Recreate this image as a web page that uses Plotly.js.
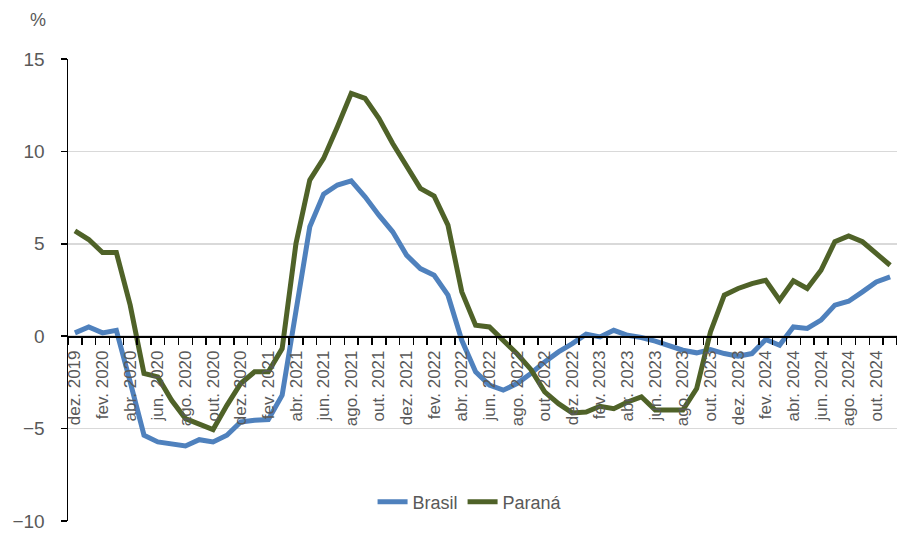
<!DOCTYPE html>
<html>
<head>
<meta charset="utf-8">
<script src="https://cdn.plot.ly/plotly-3.0.1.min.js"></script>
<style>html,body{margin:0;padding:0;background:#fff;}#chart{width:897px;height:536px;}</style>
</head>
<body>
<div id="chart"></div>
<script>
const months = [
  'dez. 2019',
  'jan. 2020','fev. 2020','mar. 2020','abr. 2020','mai. 2020','jun. 2020','jul. 2020','ago. 2020','set. 2020','out. 2020','nov. 2020','dez. 2020',
  'jan. 2021','fev. 2021','mar. 2021','abr. 2021','mai. 2021','jun. 2021','jul. 2021','ago. 2021','set. 2021','out. 2021','nov. 2021','dez. 2021',
  'jan. 2022','fev. 2022','mar. 2022','abr. 2022','mai. 2022','jun. 2022','jul. 2022','ago. 2022','set. 2022','out. 2022','nov. 2022','dez. 2022',
  'jan. 2023','fev. 2023','mar. 2023','abr. 2023','mai. 2023','jun. 2023','jul. 2023','ago. 2023','set. 2023','out. 2023','nov. 2023','dez. 2023',
  'jan. 2024','fev. 2024','mar. 2024','abr. 2024','mai. 2024','jun. 2024','jul. 2024','ago. 2024','set. 2024','out. 2024','nov. 2024'
];
const brasil = [
  0.18, 0.5, 0.18, 0.32, -2.47, -5.36, -5.72, -5.85, -5.94, -5.6, -5.72, -5.36, -4.64,
  -4.55, -4.51, -3.19, 1.48, 5.92, 7.69, 8.18, 8.41, 7.54, 6.55, 5.65, 4.39,
  3.66, 3.3, 2.22, -0.22, -1.93, -2.65, -2.92, -2.56, -2.02, -1.39, -0.85, -0.4,
  0.11, -0.04, 0.32, 0.05, -0.07, -0.27, -0.49, -0.76, -0.9, -0.72, -0.94, -1.08,
  -0.94, -0.18, -0.49, 0.5, 0.42, 0.87, 1.68, 1.89, 2.4, 2.94, 3.21
];
const parana = [
  5.7, 5.23, 4.53, 4.53, 1.68, -2.02, -2.2, -3.47, -4.46, -4.76, -5.05, -3.74, -2.56,
  -1.93, -1.93, -0.67, 5.02, 8.45, 9.62, 11.33, 13.14, 12.87, 11.79, 10.43, 9.17,
  8.0, 7.58, 6.01, 2.4, 0.6, 0.5, -0.22, -0.95, -1.8, -3.01, -3.65, -4.15,
  -4.1, -3.79, -3.92, -3.56, -3.28, -4.0, -4.0, -4.0, -2.83, 0.23, 2.22, 2.58,
  2.85, 3.03, 1.95, 3.0, 2.58, 3.57, 5.11, 5.43, 5.11, 4.51, 3.84
];
const yTicks = [-10, -5, 0, 5, 10, 15];
const seriesNames = ['Brasil', 'Paraná'];
const unitLabel = '%';

const idx = months.map((m, i) => i);
const labelIdx = idx.filter(i => i % 2 === 0);
const labelText = labelIdx.map(i => months[i]);

const FONT = 'Liberation Sans, Arial, sans-serif';
const GRAY = '#595959';

const traces = [
  {x: idx, y: brasil, name: seriesNames[0], type: 'scatter', mode: 'lines',
   line: {color: '#4F81BD', width: 5}, hovertext: months},
  {x: idx, y: parana, name: seriesNames[1], type: 'scatter', mode: 'lines',
   line: {color: '#4F6228', width: 5}, hovertext: months}
];

const layout = {
  width: 897, height: 536,
  margin: {l: 68, r: 0, t: 59, b: 15},
  paper_bgcolor: '#fff', plot_bgcolor: '#fff',
  font: {family: FONT, color: GRAY},
  showlegend: true,
  legend: {orientation: 'h', x: 0.485, xanchor: 'center', y: 0.041, yanchor: 'middle',
           font: {size: 18, color: GRAY, family: FONT}, bgcolor: 'rgba(0,0,0,0)'},
  xaxis: {
    range: [-0.5, months.length - 0.5],
    anchor: 'free', position: 0.4,
    tickmode: 'array', tickvals: labelIdx, ticktext: labelText,
    ticks: '', tickangle: -90,
    tickfont: {size: 17, color: GRAY, family: FONT},
    ticklabelstandoff: 6,
    showgrid: false, zeroline: false,
    showline: true, linecolor: '#000', linewidth: 1.5,
    minor: {tickmode: 'linear', tick0: -0.5, dtick: 1, ticks: 'outside', ticklen: 7,
            tickcolor: '#000', tickwidth: 1.5, showgrid: false}
  },
  yaxis: {
    range: [-10, 15],
    tickmode: 'array', tickvals: yTicks,
    ticks: 'outside', ticklen: 6, tickcolor: '#000', tickwidth: 1.5,
    tickfont: {size: 19, color: GRAY, family: FONT},
    ticklabelstandoff: 12,
    showline: true, linecolor: '#000', linewidth: 1.5,
    showgrid: true, gridcolor: '#d9d9d9', gridwidth: 1.5,
    zeroline: false
  },
  annotations: [
    {text: unitLabel, xref: 'paper', yref: 'paper', x: (38 - 68) / 829, y: 1 + (59 - 20) / 462,
     xanchor: 'center', yanchor: 'middle', showarrow: false,
     font: {size: 18, color: GRAY, family: FONT}}
  ]
};

Plotly.newPlot('chart', traces, layout, {displayModeBar: false, staticPlot: true});
</script>
</body>
</html>
